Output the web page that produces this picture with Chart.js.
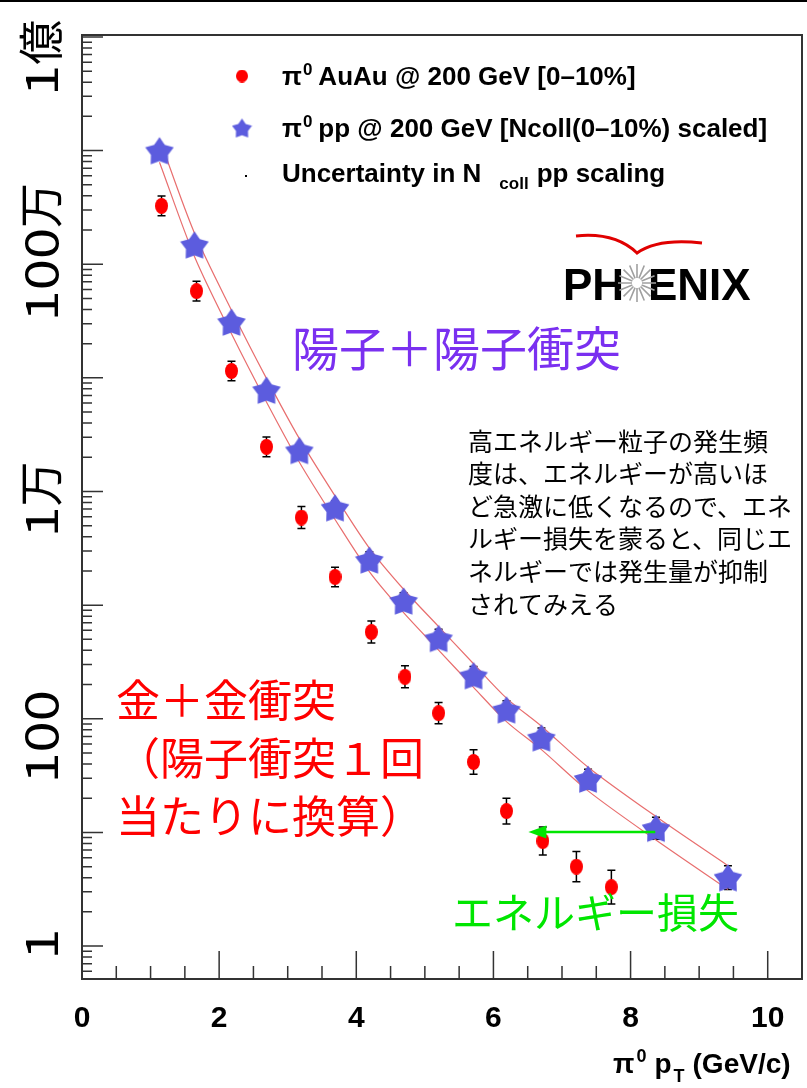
<!DOCTYPE html>
<html>
<head>
<meta charset="utf-8">
<script src="https://cdn.jsdelivr.net/npm/chart.js@4.4.0/dist/chart.umd.min.js"></script>
<style>
  html, body { margin: 0; padding: 0; background: #fff; }
  #wrap { width: 807px; height: 1088px; }
</style>
</head>
<body>
<div id="wrap"><canvas id="chart" width="807" height="1088"></canvas></div>
<script>
// pi0 yields (pT in GeV/c)
const auauPt    = [1.16, 1.67, 2.18, 2.69, 3.20, 3.69, 4.22, 4.71, 5.20, 5.71, 6.19, 6.72, 7.21, 7.72];
const auauYield = [3.26e6, 5.8e5, 1.15e5, 2.47e4, 5.9e3, 1.77e3, 580, 234, 112, 41.7, 15.4, 8.4, 5.0, 3.3];
const auauErr   = [1.22, 1.22, 1.22, 1.22, 1.25, 1.22, 1.25, 1.25, 1.24, 1.28, 1.30, 1.33, 1.36, 1.41];

const ppPt    = [1.13, 1.64, 2.18, 2.69, 3.17, 3.69, 4.19, 4.69, 5.20, 5.71, 6.19, 6.70, 7.38, 8.37, 9.42];
const ppYield = [1.0e7, 1.48e6, 3.1e5, 7.8e4, 2.3e4, 7.2e3, 2.5e3, 1.09e3, 510, 240, 120, 68, 29.5, 10.9, 4.0];
const ppErr   = [1.12, 1.12, 1.12, 1.12, 1.12, 1.15, 1.18, 1.18, 1.2, 1.2, 1.2, 1.22, 1.22, 1.25, 1.27];

// Ncoll scaling uncertainty band (upper / lower curves)
const bandHigh = [1.27e7, 1.88e6, 3.94e5, 9.9e4, 2.92e4, 9.15e3, 3.18e3, 1.38e3, 648, 305, 152, 86, 37.5, 13.8, 5.1];
const bandLow  = [7.9e6, 1.17e6, 2.44e5, 6.14e4, 1.81e4, 5.67e3, 1.97e3, 858, 402, 189, 94.5, 53.5, 23.2, 8.58, 3.15];

// energy loss arrow
const arrowX = [8.36, 6.51];
const arrowY = [10.1, 10.1];

// axis ticks
const xMajorTicks = [0, 2, 4, 6, 8, 10];
const yTickValues = [1, 100, 1e4, 1e6, 1e8];
const yTickLabels = ['1', '100', '1万', '100万', '1億'];

const legendLabels = ['AuAu @ 200 GeV [0\u201310%]', 'pp @ 200 GeV [Ncoll(0\u201310%) scaled]', 'Uncertainty in N'];
const noteLines = ['高エネルギー粒子の発生頻', '度は、エネルギーが高いほ', 'ど急激に低くなるので、エネ', 'ルギー損失を蒙ると、同じエ', 'ネルギーでは発生量が抑制', 'されてみえる'];
const ppText = '陽子＋陽子衝突';
const auauText = ['金＋金衝突', '（陽子衝突１回', '当たりに換算）'];
const lossText = 'エネルギー損失';

const JP = '"Noto Sans CJK JP", sans-serif';
const LAT = '"Liberation Sans", Arial, sans-serif';
const STAR_COLOR = 'rgb(92, 92, 222)';
const AXIS_COLOR = '#333';
const yLabelShift = [-2, 18, 8, -12, 21];

function makeStar(size, color) {
  const c = document.createElement('canvas');
  c.width = size; c.height = size;
  const g = c.getContext('2d');
  const cx = size / 2, cy = size / 2 + size * 0.05;
  const ro = size * 0.5, ri = size * 0.3;
  g.beginPath();
  for (let i = 0; i < 10; i++) {
    const r = i % 2 ? ri : ro;
    const a = -Math.PI / 2 + i * Math.PI / 5;
    g.lineTo(cx + r * Math.cos(a), cy + r * Math.sin(a));
  }
  g.closePath();
  g.fillStyle = color;
  g.fill();
  return c;
}

function makeEllipse(w, h, color) {
  const c = document.createElement('canvas');
  c.width = w; c.height = h;
  const g = c.getContext('2d');
  g.beginPath();
  g.ellipse(w / 2, h / 2, w / 2, h / 2, 0, 0, Math.PI * 2);
  g.fillStyle = color;
  g.fill();
  return c;
}

const starImg = makeStar(30, STAR_COLOR);
const dotImg = makeEllipse(13, 16, '#ff0000');
const legStar = makeStar(21, STAR_COLOR);
const legDot = makeEllipse(12, 13, '#ff0000');

// draws text pieces with sub/superscripts, returns end x
function rich(ctx, parts, x, y) {
  parts.forEach(p => {
    ctx.font = 'bold ' + p[1] + 'px ' + LAT;
    ctx.fillText(p[0], x, y + (p[2] || 0));
    x += ctx.measureText(p[0]).width + (p[3] || 0);
  });
  return x;
}

const errorBars = {
  id: 'errorBars',
  beforeDatasetsDraw(chart) {
    const ctx = chart.ctx, ys = chart.scales.y;
    ctx.save();
    ctx.strokeStyle = '#000';
    ctx.lineWidth = 1.5;
    chart.data.datasets.forEach((ds, di) => {
      if (!ds.errFactor) return;
      chart.getDatasetMeta(di).data.forEach((pt, i) => {
        const v = ds.data[i].y, f = ds.errFactor[i];
        const y1 = ys.getPixelForValue(v * f), y2 = ys.getPixelForValue(v / f);
        ctx.beginPath();
        ctx.moveTo(pt.x, y1); ctx.lineTo(pt.x, y2);
        ctx.moveTo(pt.x - 4, y1); ctx.lineTo(pt.x + 4, y1);
        ctx.moveTo(pt.x - 4, y2); ctx.lineTo(pt.x + 4, y2);
        ctx.stroke();
      });
    });
    ctx.restore();
  }
};

const decorations = {
  id: 'decorations',
  afterDraw(chart) {
    const ctx = chart.ctx, a = chart.chartArea;
    const xs = chart.scales.x, ys = chart.scales.y;
    ctx.save();

    // top border of the picture
    ctx.fillStyle = '#000';
    ctx.fillRect(0, 0, chart.width, 2);

    // frame
    ctx.strokeStyle = AXIS_COLOR;
    ctx.lineWidth = 2;
    ctx.strokeRect(a.left, a.top, a.right - a.left, a.bottom - a.top);

    // x ticks
    ctx.lineWidth = 1.5;
    ctx.beginPath();
    for (let v = 0.5; v < xs.max - 0.01; v += 0.5) {
      const px = xs.getPixelForValue(v);
      const len = xMajorTicks.includes(v) ? 28 : 13;
      ctx.moveTo(px, a.bottom); ctx.lineTo(px, a.bottom - len);
    }
    // y ticks
    for (let d = -1; d <= 8; d++) {
      for (let m = 1; m <= 9; m++) {
        const v = m * Math.pow(10, d);
        if (v < ys.min || v > ys.max) continue;
        const py = ys.getPixelForValue(v);
        ctx.moveTo(a.left, py); ctx.lineTo(a.left + (m === 1 ? 21 : 10), py);
      }
    }
    ctx.stroke();

    // x tick labels
    ctx.fillStyle = '#000';
    ctx.textAlign = 'center';
    ctx.textBaseline = 'alphabetic';
    ctx.font = 'bold 30px ' + LAT;
    xMajorTicks.forEach(v => ctx.fillText(String(v), xs.getPixelForValue(v), 1027));

    // x axis title
    ctx.textAlign = 'left';
    rich(ctx, [['\u03c0', 28, 0, 2], ['0', 18, -11, 8], ['p', 28, 0, 2], ['T', 18, 9, 8], ['(GeV/c)', 28]], 613, 1073);

    // y tick labels (rotated)
    yTickLabels.forEach((t, i) => {
      const cy = ys.getPixelForValue(yTickValues[i]) + yLabelShift[i];
      const m = t.match(/^(\d+)(.*)$/);
      ctx.font = '45px ' + JP;
      const wd = ctx.measureText(m[1]).width * 1.25;
      const wr = m[2] ? ctx.measureText(m[2]).width : 0;
      const tot = wd + wr;
      ctx.save();
      ctx.translate(58, cy);
      ctx.rotate(-Math.PI / 2);
      ctx.save();
      ctx.translate(-tot / 2, 0);
      ctx.scale(1.25, 1);
      ctx.fillText(m[1], 0, 0);
      ctx.restore();
      if (m[2]) ctx.fillText(m[2], -tot / 2 + wd, 0);
      ctx.restore();
    });

    // legend
    ctx.drawImage(legDot, 242 - 6, 76 - 6.5);
    ctx.drawImage(legStar, 242 - 10.5, 128 - 10.5);
    ctx.fillRect(245, 175, 2, 2);
    ctx.fillStyle = '#000';
    rich(ctx, [['\u03c0', 26, 0, 1], ['0', 17, -10, 6], [legendLabels[0], 26]], 282, 85);
    rich(ctx, [['\u03c0', 26, 0, 1], ['0', 17, -10, 6], [legendLabels[1], 26]], 282, 137);
    rich(ctx, [[legendLabels[2], 26, 0, 18], ['coll', 17, 7, 8], ['pp scaling', 26]], 282, 182);

    // PHENIX logo
    ctx.strokeStyle = '#e00000';
    ctx.lineWidth = 3;
    ctx.beginPath();
    ctx.moveTo(576, 236);
    ctx.quadraticCurveTo(615, 232, 637, 253);
    ctx.quadraticCurveTo(658, 238, 702, 243);
    ctx.stroke();
    ctx.font = 'bold 44px ' + LAT;
    ctx.fillStyle = '#000';
    ctx.fillText('PH', 563, 300);
    ctx.fillText('ENIX', 648, 300);
    ctx.strokeStyle = '#a0a0a0';
    ctx.lineWidth = 1.6;
    ctx.beginPath();
    for (let k = 0; k < 16; k++) {
      const ang = k * Math.PI / 8;
      ctx.moveTo(637 + 5 * Math.cos(ang), 283 + 5 * Math.sin(ang));
      ctx.lineTo(637 + 19 * Math.cos(ang), 283 + 19 * Math.sin(ang));
    }
    ctx.stroke();

    // annotations
    ctx.textBaseline = 'middle';
    ctx.font = '47px ' + JP;
    ctx.fillStyle = 'rgb(122, 48, 240)';
    ctx.fillText(ppText, 292, 348);

    ctx.font = '44px ' + JP;
    ctx.fillStyle = '#ff0000';
    auauText.forEach((t, i) => ctx.fillText(t, 116, 700 + i * 58));

    ctx.font = '41px ' + JP;
    ctx.fillStyle = 'rgb(0, 230, 0)';
    ctx.fillText(lossText, 452, 912);

    ctx.font = '25px ' + JP;
    ctx.fillStyle = '#000';
    noteLines.forEach((t, i) => ctx.fillText(t, 468, 441 + i * 32.6));

    // energy loss arrow
    const ax0 = xs.getPixelForValue(arrowX[0]), ax1 = xs.getPixelForValue(arrowX[1]);
    const ay0 = ys.getPixelForValue(arrowY[0]), ay1 = ys.getPixelForValue(arrowY[1]);
    ctx.strokeStyle = 'rgb(0, 230, 0)';
    ctx.fillStyle = 'rgb(0, 230, 0)';
    ctx.lineWidth = 2.5;
    ctx.beginPath();
    ctx.moveTo(ax0, ay0); ctx.lineTo(ax1 + 16, ay1);
    ctx.stroke();
    ctx.beginPath();
    ctx.moveTo(ax1, ay1);
    ctx.lineTo(ax1 + 18, ay1 - 6.5);
    ctx.lineTo(ax1 + 18, ay1 + 6.5);
    ctx.closePath();
    ctx.fill();

    ctx.restore();
  }
};

const ctx = document.getElementById('chart').getContext('2d');
new Chart(ctx, {
  type: 'scatter',
  data: {
    datasets: [
      {
        label: 'AuAu',
        data: auauPt.map((x, i) => ({ x, y: auauYield[i] })),
        pointStyle: dotImg,
        errFactor: auauErr
      },
      {
        label: 'pp',
        data: ppPt.map((x, i) => ({ x, y: ppYield[i] })),
        pointStyle: starImg,
        errFactor: ppErr
      },
      {
        type: 'line',
        label: 'band high',
        data: ppPt.map((x, i) => ({ x, y: bandHigh[i] })),
        borderColor: 'rgb(232, 110, 110)',
        borderWidth: 1.2,
        pointRadius: 0,
        tension: 0.3,
        fill: false
      },
      {
        type: 'line',
        label: 'band low',
        data: ppPt.map((x, i) => ({ x, y: bandLow[i] })),
        borderColor: 'rgb(232, 110, 110)',
        borderWidth: 1.2,
        pointRadius: 0,
        tension: 0.3,
        fill: false
      }
    ]
  },
  options: {
    responsive: false,
    animation: false,
    devicePixelRatio: 1,
    layout: { padding: { left: 82, top: 35, right: 3, bottom: 109 } },
    plugins: {
      legend: { display: false },
      tooltip: { enabled: false }
    },
    scales: {
      x: { type: 'linear', min: 0, max: 10.5, display: false },
      y: { type: 'logarithmic', min: 0.513, max: 1.04e8, display: false, bounds: 'data' }
    }
  },
  plugins: [errorBars, decorations]
});
</script>
</body>
</html>
